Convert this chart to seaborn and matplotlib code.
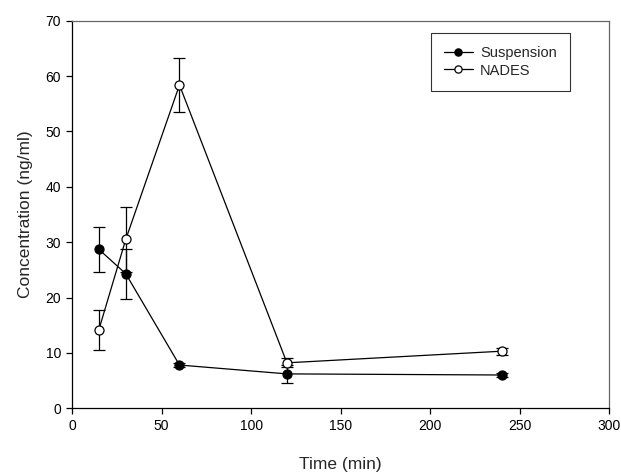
import numpy as np
import pandas as pd
import seaborn as sns
import matplotlib.pyplot as plt

time_min = [15, 30, 60, 120, 240]
suspension = [28.7, 24.3, 7.8, 6.2, 6.0]
suspension_err = [4.0, 4.5, 0.4, 1.6, 0.3]
nades = [14.2, 30.5, 58.4, 8.2, 10.3]
nades_err = [3.6, 5.8, 4.9, 0.8, 0.6]

sns.set_style("ticks")
plt.rcParams['font.family'] = ['Liberation Sans', 'DejaVu Sans']

df = pd.DataFrame({
    'Time (min)': time_min * 2,
    'conc': suspension + nades,
    'err': suspension_err + nades_err,
    'group': ['Suspension'] * 5 + ['NADES'] * 5,
})

fig = plt.figure(figsize=(6.21, 4.73), dpi=100)
ax = fig.add_axes([0.116, 0.137, 0.865, 0.819])

faces = {'Suspension': 'black', 'NADES': 'white'}
for name, face in faces.items():
    sub = df[df['group'] == name]
    ax.errorbar(sub['Time (min)'], sub['conc'], yerr=sub['err'], fmt='none',
                ecolor='black', elinewidth=0.9, capsize=4.5, capthick=0.9, zorder=2)
    sns.lineplot(data=sub, x='Time (min)', y='conc', ax=ax, color='black',
                 linewidth=0.9, marker='o', markersize=6.5, markerfacecolor=face,
                 markeredgecolor='black', markeredgewidth=0.9, label=name, zorder=3)

ax.set_xlim(0, 300)
ax.set_ylim(0, 70)
ax.set_xticks(np.arange(0, 301, 50))
ax.set_yticks(np.arange(0, 71, 10))
ax.tick_params(direction='out', length=4, width=0.9, labelsize=10, colors='black', pad=4)
ax.set_xlabel('Time (min)', fontsize=12.5, labelpad=17)
ax.set_ylabel('Concentration (ng/ml)', fontsize=12.5, labelpad=9)
for s in ['left', 'bottom']:
    ax.spines[s].set_color('black')
    ax.spines[s].set_linewidth(0.9)
for s in ['top', 'right']:
    ax.spines[s].set_visible(True)
    ax.spines[s].set_color('#666666')
    ax.spines[s].set_linewidth(0.9)

leg = ax.legend(loc='upper right', bbox_to_anchor=(0.927, 0.969), fontsize=10.5,
                frameon=True, fancybox=False, handlelength=2.0, handletextpad=0.5,
                borderpad=0.9, labelspacing=0.25, borderaxespad=0, markerscale=0.8)
leg.get_frame().set_edgecolor('black')
leg.get_frame().set_linewidth(0.8)

fig.savefig('out.png', dpi=100)
